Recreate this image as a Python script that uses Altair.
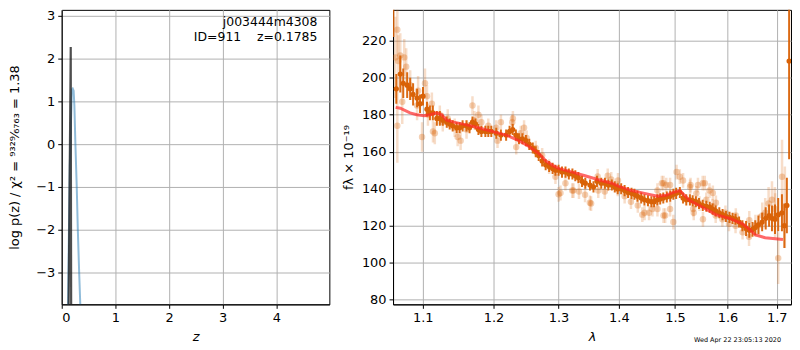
import altair as alt
import pandas as pd

# ---------------- left panel: log p(z) ----------------
pz_z = [0.128, 0.168, 0.176]
pz_logp = [-3.9, 2.27, -3.9]
chi_z = [0.115, 0.150, 0.190, 0.205, 0.222, 0.236, 0.255, 0.280, 0.300, 0.325, 0.350]
chi_logp = [-3.9, -0.5, 1.28, 1.30, 1.25, 0.9, 0.0, -1.0, -2.0, -3.0, -3.9]
annot_line1 = "j003444m4308"
annot_line2 = "ID=911\u00a0\u00a0\u00a0\u00a0z=0.1785"

# ---------------- right panel: spectrum ----------------
model_wave = [1.064, 1.070, 1.083, 1.092, 1.102, 1.110, 1.119, 1.126, 1.133, 1.143, 1.161, 1.178,
              1.198, 1.219, 1.238, 1.253, 1.269, 1.280, 1.291, 1.300, 1.322, 1.343, 1.364, 1.388,
              1.398, 1.422, 1.445, 1.468, 1.484, 1.497, 1.509, 1.519, 1.528, 1.552, 1.577, 1.604,
              1.630, 1.644, 1.656, 1.676, 1.713]
model_flux = [184, 183.5, 181, 180, 179.5, 180, 181, 180, 177, 176, 174.5, 173,
              171, 169, 166, 163, 159, 155, 152.5, 151, 149, 147, 145, 143,
              141.5, 139, 137.5, 136, 136.5, 138, 139, 136, 133.5, 130, 126, 124,
              121, 118, 115, 113.5, 112.5]

dark_wave = [1.0610, 1.0649, 1.0701, 1.0740, 1.0792, 1.0832, 1.0871, 1.0924, 1.0964, 1.1004,
             1.1058, 1.1098, 1.1138, 1.1193, 1.1234, 1.1275, 1.1330, 1.1371, 1.1413, 1.1469,
             1.1511, 1.1553, 1.1609, 1.1652, 1.1694, 1.1737, 1.1780, 1.1823, 1.1881, 1.1924,
             1.1968, 1.2041, 1.2110, 1.2188, 1.2240, 1.2287, 1.2335, 1.2382, 1.2435, 1.2488,
             1.2540, 1.2594, 1.2640, 1.2686, 1.2740, 1.2795, 1.2850, 1.2905, 1.2950, 1.3000,
             1.3055, 1.3111, 1.3165, 1.3223, 1.3270, 1.3320, 1.3380, 1.3434, 1.3512, 1.3570,
             1.3628, 1.3700, 1.3762, 1.3820, 1.3879, 1.3930, 1.3980, 1.4040, 1.4099, 1.4160,
             1.4220, 1.4270, 1.4324, 1.4390, 1.4447, 1.4510, 1.4571, 1.4620, 1.4678, 1.4730,
             1.4786, 1.4850, 1.4913, 1.4970, 1.5022, 1.5090, 1.5150, 1.5210, 1.5278, 1.5330,
             1.5390, 1.5450, 1.5521, 1.5590, 1.5654, 1.5710, 1.5769, 1.5840, 1.5904, 1.5970,
             1.6040, 1.6100, 1.6158, 1.6230, 1.6297, 1.6370, 1.6436, 1.6500, 1.6556, 1.6620,
             1.6697, 1.6770, 1.6840, 1.6900, 1.6963, 1.7030, 1.7108, 1.7160, 1.7212, 1.7260]
dark_flux = [245, 194, 202, 197, 196, 194, 191, 189, 186, 190,
             183, 181, 181, 178, 178, 177, 176, 175, 174, 173,
             173, 174, 174, 173, 176, 175, 172, 171, 171, 171,
             171, 170, 169, 169, 171, 172, 169, 167, 167, 166,
             164, 162, 160, 158, 155, 153, 152, 151, 150, 150,
             149, 149, 148, 148, 147, 146, 144, 143, 142, 141,
             144, 143, 143, 142, 142, 141, 140, 140, 139, 138,
             137.5, 137, 136, 135, 134, 133.5, 133, 133, 134, 134.5,
             135, 135.5, 136, 137, 137.5, 138, 135, 134, 134, 133.5,
             133, 132, 131, 130.5, 130, 129, 128, 127, 126, 125,
             124.5, 124, 123.5, 122, 120, 118.5, 117.5, 118, 119, 120.5,
             122, 124, 125.5, 124, 123.5, 126, 127, 120, 131, 209]
dark_err = [23, 8, 10, 8, 7, 6, 6, 5, 5, 5,
            4, 4, 4, 4, 4, 3, 3, 3, 3, 3,
            3, 3, 3, 3, 3, 3, 3, 3, 3, 3,
            3, 3, 3, 3, 3, 3, 3, 3, 3, 3,
            3, 3, 3, 3, 3, 3, 3, 3, 3, 3,
            3, 3, 3, 3, 3, 3, 3, 3, 3, 3,
            3, 3, 3, 3, 3, 3, 3, 3, 3, 3,
            3, 3, 3, 3, 3, 3, 3, 3, 3, 3,
            3, 3, 3, 3, 3, 3, 3, 3, 3, 3,
            3, 3, 3, 3, 3, 3, 3, 3, 3, 3,
            3, 3, 3, 3, 3, 4, 4, 4, 4, 5,
            5, 6, 6, 7, 8, 9, 10, 12, 15, 53]

light_wave = [1.0636, 1.0662, 1.0662, 1.0675, 1.0701, 1.0727, 1.0753, 1.0779, 1.0832, 1.0924,
              1.0938, 1.0991, 1.1031, 1.1058, 1.1071, 1.1125, 1.1140, 1.1165, 1.1234, 1.1275,
              1.1344, 1.1441, 1.1483, 1.1525, 1.1609, 1.1694, 1.1722, 1.1780, 1.1823, 1.1924,
              1.2041, 1.2060, 1.2110, 1.2280, 1.2290, 1.2340, 1.2410, 1.2460, 1.2500, 1.2640,
              1.2740, 1.2850, 1.2950, 1.3000, 1.3030, 1.3110, 1.3220, 1.3240, 1.3330, 1.3430,
              1.3510, 1.3530, 1.3640, 1.3650, 1.3760, 1.3810, 1.3870, 1.3980, 1.3985, 1.4100,
              1.4210, 1.4330, 1.4410, 1.4450, 1.4530, 1.4590, 1.4680, 1.4680, 1.4760, 1.4790,
              1.4790, 1.4820, 1.4840, 1.4910, 1.4910, 1.4970, 1.5030, 1.5090, 1.5150, 1.5280,
              1.5290, 1.5340, 1.5350, 1.5400, 1.5430, 1.5460, 1.5520, 1.5525, 1.5560, 1.5590,
              1.5650, 1.5710, 1.5715, 1.5770, 1.5775, 1.5900, 1.5960, 1.6030, 1.6160, 1.6165,
              1.6300, 1.6430, 1.6435, 1.6560, 1.6630, 1.6700, 1.6760, 1.6830, 1.6900, 1.6960,
              1.6965, 1.7030, 1.7110, 1.7170]
light_flux = [211, 226, 174, 209, 212, 187, 211, 206, 196, 185,
              193, 168, 197, 190, 180, 186, 171, 170, 180, 176,
              178, 173, 168, 166, 172, 185, 177, 180, 176, 174,
              173, 166, 176, 176, 178, 162.5, 170, 173, 167.5, 162,
              158, 152, 146.5, 137, 137.7, 143, 139, 139, 138.5, 136.7,
              132.4, 132, 146.6, 139, 138.5, 147, 145, 140, 144.5, 136,
              133, 131, 126, 127, 127, 129, 129, 139, 143, 125.5,
              143, 125.5, 142, 129, 142, 122, 149, 146.5, 144.5, 141,
              142, 129, 127, 137.5, 142, 132, 143, 123.5, 143, 134,
              139, 130.5, 137.7, 125.5, 132.4, 123.5, 127, 121, 120, 125.5,
              116.5, 114, 123, 120, 120.3, 125.5, 127, 132, 134, 129,
              125.5, 102.5, 146.5, 130]
light_err = [22, 14, 20, 14, 12, 12, 10, 10, 8, 8,
             8, 8, 8, 6, 6, 6, 6, 6, 5, 5,
             5, 5, 5, 5, 5, 5, 5, 5, 4, 4,
             4, 4, 4, 4, 4, 4, 4, 4, 4, 4,
             4, 4, 4, 4, 4, 4, 4, 4, 4, 4,
             4, 4, 4, 4, 4, 4, 4, 4, 4, 4,
             4, 4, 4, 4, 4, 4, 4, 4, 4, 4,
             4, 4, 4, 4, 4, 4, 4, 4, 4, 4,
             4, 4, 4, 4, 4, 4, 4, 4, 4, 4,
             4, 4, 4, 4, 4, 4, 4, 4, 4, 4,
             4, 5, 5, 6, 6, 7, 8, 9, 10, 12,
             12, 14, 20, 22]

timestamp = "Wed Apr 22 23:05:13 2020"

ORANGE = "#d96207"
FONT = "DejaVu Sans"

LW, LH = 269, 296
RW, RH = 400, 296

# ---------------- build left panel ----------------
pz_df = pd.DataFrame({"z": pz_z, "logp": pz_logp})
chi_df = pd.DataFrame({"z": chi_z, "logp": chi_logp})
ann1_df = pd.DataFrame({"text": [annot_line1]})
ann2_df = pd.DataFrame({"text": [annot_line2]})

xz = alt.X("z:Q", scale=alt.Scale(domain=[0, 4.99], nice=False),
           axis=alt.Axis(values=[0, 1, 2, 3, 4], title="z", titleFontStyle="italic"))
ylp = alt.Y("logp:Q", scale=alt.Scale(domain=[-3.75, 3.14], nice=False, zero=False),
            axis=alt.Axis(values=[-3, -2, -1, 0, 1, 2, 3], titlePadding=14,
                          title="log p(z) / χ² = ⁹³²⁹⁄₆₇₆₃ = 1.38"))

chi_line = alt.Chart(chi_df).mark_line(color="#1f77b4", opacity=0.5, strokeWidth=2, clip=True).encode(
    x=xz, y=ylp)
pz_line = alt.Chart(pz_df).mark_line(color="#222222", opacity=0.8, strokeWidth=2.2, clip=True).encode(
    x="z:Q", y="logp:Q")
ann1 = alt.Chart(ann1_df).mark_text(align="right", baseline="middle", font=FONT, fontSize=12.5,
                                    color="black").encode(
    x=alt.value(LW - 12), y=alt.value(12), text="text:N")
ann2 = alt.Chart(ann2_df).mark_text(align="right", baseline="middle", font=FONT, fontSize=12.5,
                                    color="black").encode(
    x=alt.value(LW - 12), y=alt.value(27), text="text:N")

left = alt.layer(chi_line, pz_line, ann1, ann2).properties(width=LW, height=LH)

# ---------------- build right panel ----------------
model_df = pd.DataFrame({"wave": model_wave, "flux": model_flux})
dark_df = pd.DataFrame({"wave": dark_wave, "flux": dark_flux, "err": dark_err})
light_df = pd.DataFrame({"wave": light_wave, "flux": light_flux, "err": light_err})
ts_df = pd.DataFrame({"text": [timestamp]})

FLUX_SCALE = alt.Scale(domain=[77.5, 236.7], nice=False, zero=False)
xw = alt.X("wave:Q", scale=alt.Scale(type="log", domain=[1.0606, 1.730], nice=False),
           axis=alt.Axis(values=[1.1, 1.2, 1.3, 1.4, 1.5, 1.6, 1.7], format=".1f",
                         title="λ", titleFontStyle="italic"))
yf = alt.Y("flux:Q", scale=FLUX_SCALE,
           axis=alt.Axis(values=[80, 100, 120, 140, 160, 180, 200, 220], title="fλ × 10⁻¹⁹"))


def errbars(df, width, opacity):
    return alt.Chart(df).transform_calculate(
        lo="datum.flux - datum.err", hi="datum.flux + datum.err"
    ).mark_rule(color=ORANGE, strokeWidth=width, opacity=opacity, clip=True).encode(
        x="wave:Q", y=alt.Y("lo:Q", scale=FLUX_SCALE), y2="hi:Q")


light_pts = alt.Chart(light_df).mark_circle(color=ORANGE, size=42, opacity=0.3, clip=True).encode(
    x=xw, y=yf)
light_bars = errbars(light_df, 2.5, 0.22)
dark_bars = errbars(dark_df, 2, 0.95)
dark_pts = alt.Chart(dark_df).mark_circle(color=ORANGE, size=28, opacity=1, clip=True).encode(
    x="wave:Q", y="flux:Q")
model_line = alt.Chart(model_df).mark_line(color="#ff2a2a", opacity=0.7, strokeWidth=3, clip=True).encode(
    x="wave:Q", y="flux:Q")
ts = alt.Chart(ts_df).mark_text(align="right", baseline="middle", font=FONT, fontSize=6.5,
                                color="black").encode(
    x=alt.value(RW - 10), y=alt.value(RH + 36), text="text:N")

right = alt.layer(light_pts, light_bars, dark_bars, dark_pts, model_line, ts).properties(
    width=RW, height=RH)

chart = alt.hconcat(left, right, spacing=11).properties(
    padding={"left": 0, "top": 0, "right": 0, "bottom": 0}
).configure_view(
    stroke="black", strokeWidth=1
).configure_axis(
    labelFont=FONT, labelFontSize=13, labelColor="black",
    titleFont=FONT, titleFontSize=13, titleFontWeight="normal", titleColor="black",
    domainColor="black", tickColor="black", tickSize=4, labelPadding=3,
    gridColor="#b0b0b0", gridWidth=1, gridOpacity=1, titlePadding=6
)

chart.save("out.html", embed_options={"renderer": "svg", "actions": False})
